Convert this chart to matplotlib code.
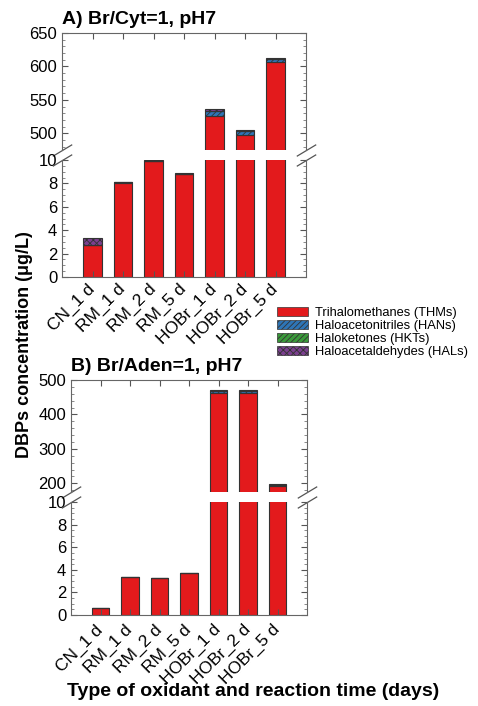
import numpy as np
import matplotlib
matplotlib.use("Agg")
import matplotlib.pyplot as plt
from matplotlib.patches import Patch

plt.rcParams['font.family'] = ['Liberation Sans', 'DejaVu Sans']
plt.rcParams['hatch.linewidth'] = 0.6

labels = ['CN_1 d', 'RM_1 d', 'RM_2 d', 'RM_5 d', 'HOBr_1 d', 'HOBr_2 d', 'HOBr_5 d']
groups = ['Trihalomethanes (THMs)', 'Haloacetonitriles (HANs)',
          'Haloketones (HKTs)', 'Haloacetaldehydes (HALs)']

# A) Br/Cyt=1, pH7  (ug/L)
thm_a = [2.7, 8.0, 9.9, 8.8, 526, 497, 606]
han_a = [0.05, 0.1, 0.05, 0.03, 7, 6, 5]
hkt_a = [0, 0, 0, 0, 0.5, 0.5, 0.5]
hal_a = [0.6, 0.05, 0.02, 0.05, 2.5, 1, 1]

# B) Br/Aden=1, pH7  (ug/L)
thm_b = [0.6, 3.35, 3.25, 3.7, 461, 461, 191]
han_b = [0.02, 0.02, 0.02, 0.02, 8, 8, 5]
hkt_b = [0, 0, 0, 0, 0.5, 0.5, 0.5]
hal_b = [0.02, 0.02, 0.02, 0.02, 1, 1, 0.5]

colors = ['#e31a1c', '#2e75b6', '#3a9a3a', '#7b3f8f']
hatches = [None, '//////', '//////', 'xxxxx']
edge = '#333333'

W, H = 478, 706
fig = plt.figure(figsize=(W / 100, H / 100), dpi=100)


def box(left, right, top, bottom):
    return [left / W, 1 - bottom / H, (right - left) / W, (bottom - top) / H]


def stack(ax, series):
    x = np.arange(len(labels))
    base = np.zeros(len(labels))
    for vals, c, h in zip(series, colors, hatches):
        vals = np.array(vals, dtype=float)
        ax.bar(x, vals, 0.6, bottom=base, color=c, hatch=h,
               edgecolor=edge, linewidth=0.8)
        base += vals


def style(ax):
    ax.set_xlim(-1, 7)
    ax.set_xticks(np.arange(len(labels)))
    ax.tick_params(axis='both', direction='in', labelsize=12, length=4,
                   top=True, right=True, width=0.8, color='#555555')
    ax.tick_params(axis='y', which='minor', direction='in', length=2,
                   right=True, color='#777777')
    for s in ax.spines.values():
        s.set_color('#666666')


def panel(top_px, split_px, bottom_px, left_px, right_px, upper_lim, upper_major,
          upper_minor, series, title, label_pad):
    gap = 10
    ax_u = fig.add_axes(box(left_px, right_px, top_px, split_px))
    ax_l = fig.add_axes(box(left_px, right_px, split_px + gap, bottom_px))
    for ax in (ax_u, ax_l):
        stack(ax, series)
        style(ax)
    ax_u.set_ylim(*upper_lim)
    ax_u.set_yticks(upper_major)
    ax_u.set_yticks(upper_minor, minor=True)
    ax_u.spines['bottom'].set_visible(False)
    ax_u.tick_params(axis='x', bottom=False, labelbottom=False)
    ax_l.set_ylim(0, 10)
    ax_l.set_yticks(np.arange(0, 11, 2))
    ax_l.set_yticks(np.arange(0, 10.01, 0.5), minor=True)
    ax_l.spines['top'].set_visible(False)
    ax_l.tick_params(axis='x', top=False, pad=label_pad)
    ax_l.set_xticklabels(labels, rotation=45, ha='right', va='center',
                         rotation_mode='anchor', fontsize=12.5)
    # break marks on both spines
    mk = dict(marker=[(-1, -0.6), (1, 0.6)], markersize=14, linestyle='none',
              color='#555555', mec='#555555', mew=0.9, clip_on=False)
    ax_u.plot([0, 1], [0, 0], transform=ax_u.transAxes, **mk)
    ax_l.plot([0, 1], [1, 1], transform=ax_l.transAxes, **mk)
    fig.text(left_px / W, 1 - (top_px - 5) / H, title, fontsize=14,
             fontweight='bold', ha='left', va='bottom')
    return ax_u, ax_l


panel(33, 150, 277, 62, 306, (475, 650), [500, 550, 600, 650],
      np.arange(480, 651, 10), [thm_a, han_a, hkt_a, hal_a], 'A) Br/Cyt=1, pH7', 7)
panel(380, 492, 615, 71, 307, (175, 500), [200, 300, 400, 500],
      np.arange(180, 501, 20), [thm_b, han_b, hkt_b, hal_b], 'B) Br/Aden=1, pH7', 9)

handles = [Patch(facecolor=c, hatch=h, edgecolor=edge, linewidth=0.5)
           for c, h in zip(colors, hatches)]
fig.legend(handles, groups, loc='upper left', bbox_to_anchor=(277 / W, 1 - 307 / H),
           frameon=False, fontsize=9.3, handlelength=2.4, handleheight=0.65,
           labelspacing=0.08, handletextpad=0.55, borderpad=0, borderaxespad=0)

fig.text(25 / W, 1 - 345 / H, 'DBPs concentration (\u03bcg/L)', rotation=90,
         fontsize=13, fontweight='bold', ha='center', va='center')
fig.text(253 / W, 1 - 692 / H, 'Type of oxidant and reaction time (days)',
         fontsize=14, fontweight='bold', ha='center', va='center')

fig.savefig('out.png', dpi=100)
